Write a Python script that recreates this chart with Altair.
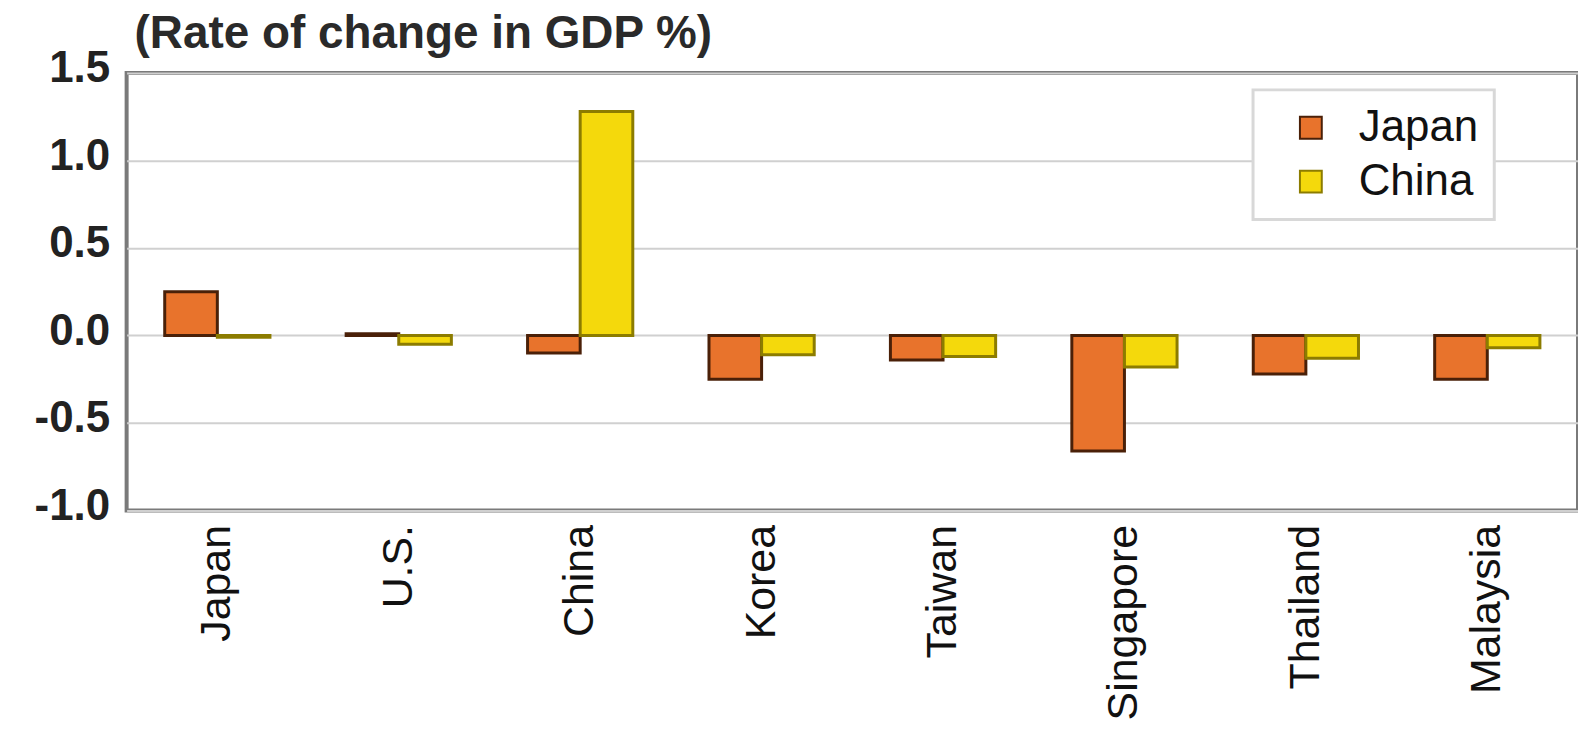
import altair as alt
import pandas as pd

countries = ["Japan", "U.S.", "China", "Korea", "Taiwan", "Singapore", "Thailand", "Malaysia"]
series = ["Japan", "China"]
japan_vals = [0.25, 0.01, -0.10, -0.25, -0.14, -0.66, -0.22, -0.25]
china_vals = [-0.01, -0.05, 1.28, -0.11, -0.12, -0.18, -0.13, -0.07]
y_ticks = [-1.0, -0.5, 0.0, 0.5, 1.0, 1.5]

rows = []
for c, j, ch in zip(countries, japan_vals, china_vals):
    rows.append({"country": c, "series": "Japan", "value": j})
    rows.append({"country": c, "series": "China", "value": ch})
df = pd.DataFrame(rows)

FONT = "Liberation Sans"

color_scale = alt.Scale(domain=series, range=["#E8732C", "#F4D90C"])
stroke_scale = alt.Scale(domain=series, range=["#4A2008", "#8C7C00"])

bars = alt.Chart(df).mark_bar(strokeWidth=3).encode(
    x=alt.X("country:N", sort=countries,
            scale=alt.Scale(paddingInner=0.42, paddingOuter=0.21),
            axis=alt.Axis(title=None, labelAngle=270, labelAlign="right", labelBaseline="middle",
                          labelFontSize=43, labelFont=FONT, labelColor="#111",
                          labelPadding=14, labelLimit=400, ticks=False, domain=False, grid=False)),
    xOffset=alt.XOffset("series:N", sort=series),
    y=alt.Y("value:Q", scale=alt.Scale(domain=[-1.0, 1.5], nice=False),
            axis=alt.Axis(title=None, values=y_ticks,
                          labelExpr="datum.value < 0 ? '-' + format(-datum.value, '.1f') : format(datum.value, '.1f')",
                          labelFontSize=44, labelFont=FONT, labelFontWeight="bold", labelColor="#222",
                          labelPadding=17, labelOffset=-4, ticks=False, domain=False,
                          gridColor="#d0d0d0", gridWidth=2)),
    color=alt.Color("series:N", scale=color_scale, sort=series,
                    legend=alt.Legend(title=None, orient="none", legendX=1130, legendY=17,
                                      labelFontSize=44, labelFont=FONT, labelColor="#111",
                                      symbolType="square", symbolSize=480, symbolOffset=20,
                                      labelOffset=26,
                                      symbolStrokeColor="#6b4a20", symbolStrokeWidth=2,
                                      rowPadding=10, padding=16,
                                      strokeColor="#d8d8d8", fillColor="#ffffff")),
    stroke=alt.Stroke("series:N", scale=stroke_scale, sort=series, legend=None),
)

chart = bars.properties(
    width=1456,
    height=439,
    autosize=alt.AutoSizeParams(type="none"),
    padding={"left": 119, "top": 64, "right": 0, "bottom": 210},
    title=alt.TitleParams("(Rate of change in GDP %)", anchor="start", frame="group", fontSize=46,
                          font=FONT, fontWeight="bold", color="#2a2a2a", offset=-11, dx=8),
).configure_view(stroke="#7a7a7a", strokeWidth=4).configure_legend(strokeWidth=3)

chart.save("out.html", embed_options={"renderer": "svg", "actions": False})
